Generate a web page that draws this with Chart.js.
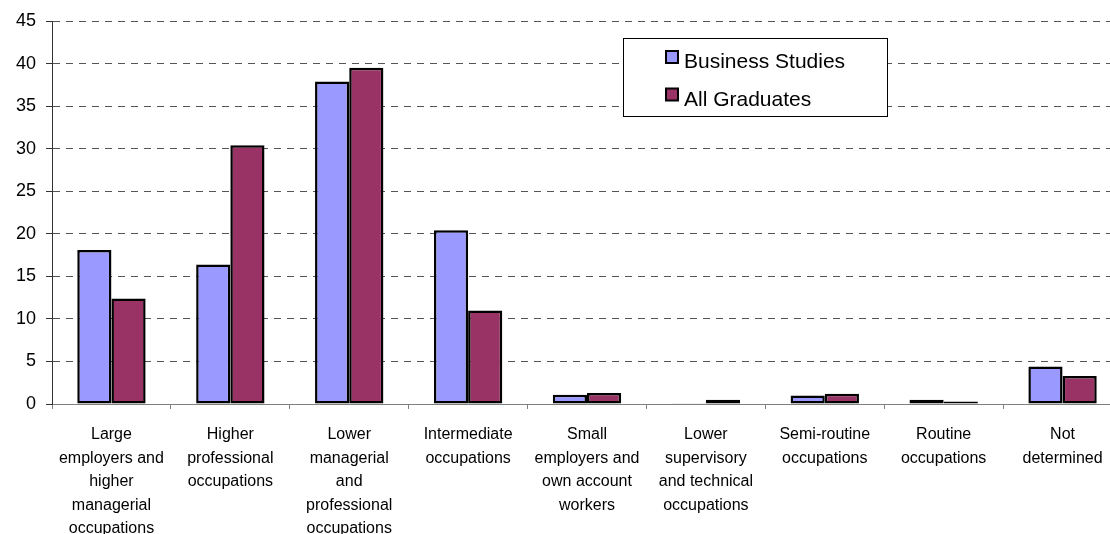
<!DOCTYPE html>
<html>
<head>
<meta charset="utf-8">
<script src="https://cdn.jsdelivr.net/npm/chart.js@4/dist/chart.umd.min.js"></script>
<style>
    html, body { margin: 0; padding: 0; background: #fff; overflow: hidden; }
    #wrap { position: relative; width: 1122px; height: 534px; }
</style>
</head>
<body>
<div id="wrap"><canvas id="occChart"></canvas></div>
<script>
// categories (multi-line labels as in the picture)
const categories = [
    ['Large', 'employers and', 'higher', 'managerial', 'occupations'],
    ['Higher', 'professional', 'occupations'],
    ['Lower', 'managerial', 'and', 'professional', 'occupations'],
    ['Intermediate', 'occupations'],
    ['Small', 'employers and', 'own account', 'workers'],
    ['Lower', 'supervisory', 'and technical', 'occupations'],
    ['Semi-routine', 'occupations'],
    ['Routine', 'occupations'],
    ['Not', 'determined']
];
const businessStudies = [18.1, 16.4, 37.9, 20.4, 1.1, 0.1, 1.0, 0.5, 4.4];
const allGraduates = [12.4, 30.4, 39.5, 11.0, 1.3, 0.5, 1.2, 0.3, 3.3];
const yTicks = [0, 5, 10, 15, 20, 25, 30, 35, 40, 45];

const FONT = "'Liberation Sans', Arial, sans-serif";

// legend box drawn inside the plot, like the original
const boxLegend = {
    id: 'boxLegend',
    afterDraw(chart) {
        const ctx = chart.ctx;
        ctx.save();
        ctx.fillStyle = '#fff';
        ctx.fillRect(623.5, 38.5, 264, 78);
        ctx.strokeStyle = '#000';
        ctx.lineWidth = 1;
        ctx.strokeRect(623.5, 38.5, 264, 78);
        ctx.font = '21px ' + FONT;
        ctx.textBaseline = 'alphabetic';
        chart.data.datasets.forEach((ds, i) => {
            const y = 51 + i * 37.5;
            ctx.fillStyle = ds.backgroundColor;
            ctx.fillRect(666, y, 12, 12);
            ctx.lineWidth = 2;
            ctx.strokeStyle = '#000';
            ctx.strokeRect(666, y, 12, 12);
            ctx.fillStyle = '#000';
            ctx.fillText(ds.label, 684, y + 17);
        });
        ctx.restore();
    }
};

new Chart(document.getElementById('occChart'), {
    type: 'bar',
    data: {
        labels: categories,
        datasets: [
            {
                label: 'Business Studies',
                data: businessStudies,
                backgroundColor: '#9999FF',
                borderColor: '#000',
                borderWidth: 2.5,
                borderSkipped: false,
                inflateAmount: 0,
                categoryPercentage: 0.575,
                barPercentage: 1.0
            },
            {
                label: 'All Graduates',
                data: allGraduates,
                backgroundColor: '#993366',
                borderColor: '#000',
                borderWidth: 2.5,
                borderSkipped: false,
                inflateAmount: 0,
                categoryPercentage: 0.575,
                barPercentage: 1.0
            }
        ]
    },
    options: {
        responsive: true,
        maintainAspectRatio: false,
        animation: false,
        layout: { padding: { top: 21, right: 0, left: 0, bottom: 0 } },
        plugins: {
            legend: { display: false },
            tooltip: { enabled: false }
        },
        scales: {
            x: {
                grid: {
                    drawOnChartArea: false,
                    drawTicks: true,
                    tickLength: 5,
                    tickColor: '#808080'
                },
                border: { display: true, color: '#808080', width: 1 },
                ticks: {
                    color: '#000',
                    font: { family: FONT, size: 16, lineHeight: 1.47 },
                    padding: 14,
                    maxRotation: 0,
                    autoSkip: false
                },
                afterFit(scale) { scale.height = 130; }
            },
            y: {
                min: 0,
                max: 45,
                afterBuildTicks(scale) {
                    scale.ticks = yTicks.map(v => ({ value: v }));
                },
                grid: {
                    color: ctx => (ctx.tick && ctx.tick.value === 0) ? 'rgba(0,0,0,0)' : '#555',
                    lineWidth: 1,
                    tickLength: 6,
                    tickColor: '#333',
                    tickBorderDash: []
                },
                border: { display: true, color: '#333', width: 1, dash: [7, 6] },
                ticks: {
                    color: '#000',
                    font: { family: FONT, size: 18 },
                    padding: 10
                },
                afterFit(scale) { scale.width = 52; }
            }
        }
    },
    plugins: [boxLegend]
});
</script>
</body>
</html>
